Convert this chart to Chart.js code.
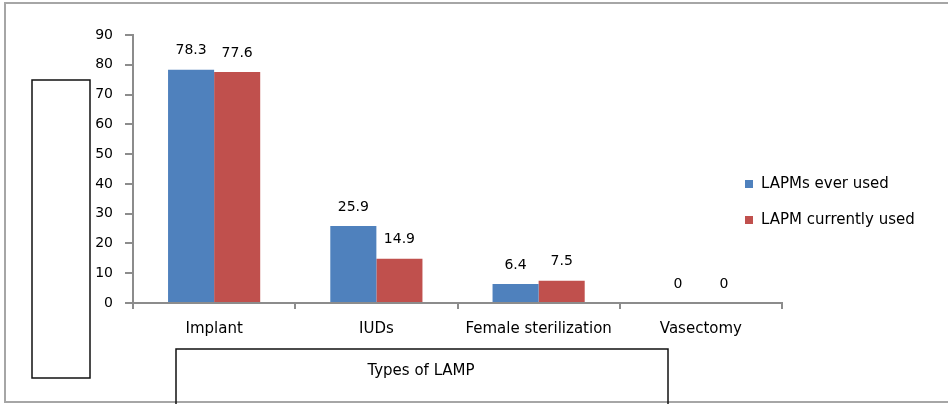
<!DOCTYPE html>
<html>
<head>
<meta charset="utf-8">
<script src="https://cdn.jsdelivr.net/npm/chart.js@4"></script>
<style>
  html, body { margin: 0; padding: 0; background: #fff; }
  #wrap { width: 948px; height: 404px; position: relative; }
</style>
</head>
<body>
<div id="wrap"><canvas id="lampChart" width="948" height="404"></canvas></div>
<script>
// values
const categories = ["Implant", "IUDs", "Female sterilization", "Vasectomy"];
const everUsed = [78.3, 25.9, 6.4, 0];
const currentlyUsed = [77.6, 14.9, 7.5, 0];
const seriesNames = ["LAPMs ever used", "LAPM currently used"];
const xTitle = "Types of LAMP";
const yTicks = [0, 10, 20, 30, 40, 50, 60, 70, 80, 90];

const blue = '#4F81BD';
const red = '#C0504D';
const axisGrey = '#8c8c8c';
const textCol = '#000';

// frame, empty y-title box, x-title box, value labels and legend
const decor = {
  id: 'decor',
  afterDraw(chart) {
    const ctx = chart.ctx;
    ctx.save();

    // outer border
    ctx.strokeStyle = '#a6a6a6';
    ctx.lineWidth = 2;
    ctx.strokeRect(5, 3, 960, 399);

    // empty box on the left
    ctx.strokeStyle = '#111';
    ctx.lineWidth = 1.5;
    ctx.strokeRect(32, 80, 58, 298);

    // x title box
    ctx.strokeRect(176, 349, 492, 60);
    ctx.fillStyle = textCol;
    ctx.font = '15px "DejaVu Sans"';
    ctx.textAlign = 'center';
    ctx.textBaseline = 'middle';
    ctx.fillText(xTitle, 421, 371);

    // value labels above bars
    ctx.font = '14px "DejaVu Sans"';
    chart.data.datasets.forEach((ds, i) => {
      chart.getDatasetMeta(i).data.forEach((bar, j) => {
        ctx.fillText(String(ds.data[j]), bar.x, bar.y - 19);
      });
    });

    // legend
    ctx.textAlign = 'left';
    ctx.font = '15px "DejaVu Sans"';
    chart.data.datasets.forEach((ds, i) => {
      const y = 184 + i * 36;
      ctx.fillStyle = ds.backgroundColor;
      ctx.fillRect(745, y - 4, 8, 8);
      ctx.fillStyle = textCol;
      ctx.fillText(ds.label, 761, y);
    });

    ctx.restore();
  }
};

const ctx = document.getElementById('lampChart').getContext('2d');
const lampChart = new Chart(ctx, {
  type: 'bar',
  data: {
    labels: categories,
    datasets: [
      { label: seriesNames[0], data: everUsed, backgroundColor: blue },
      { label: seriesNames[1], data: currentlyUsed, backgroundColor: red }
    ]
  },
  options: {
    responsive: false,
    animation: false,
    layout: { padding: { top: 35, right: 166, bottom: 50, left: 0 } },
    datasets: { bar: { categoryPercentage: 0.568, barPercentage: 1 } },
    plugins: { legend: { display: false }, tooltip: { enabled: false } },
    scales: {
      x: {
        grid: { drawOnChartArea: false, drawTicks: true, tickLength: 6, color: axisGrey, lineWidth: 2 },
        border: { display: true, color: axisGrey, width: 2 },
        ticks: { color: textCol, padding: 11, maxRotation: 0, autoSkip: false, font: { family: 'DejaVu Sans', size: 15 } },
        afterFit: s => { s.height = 51; }
      },
      y: {
        min: 0,
        max: 90,
        afterBuildTicks: s => { s.ticks = yTicks.map(v => ({ value: v })); },
        grid: { drawOnChartArea: false, drawTicks: true, tickLength: 8, color: axisGrey, lineWidth: 2 },
        border: { display: true, color: axisGrey, width: 2 },
        ticks: { color: textCol, padding: 12, font: { family: 'DejaVu Sans', size: 14 } },
        afterFit: s => { s.width = 133; }
      }
    }
  },
  plugins: [decor]
});
</script>
</body>
</html>
